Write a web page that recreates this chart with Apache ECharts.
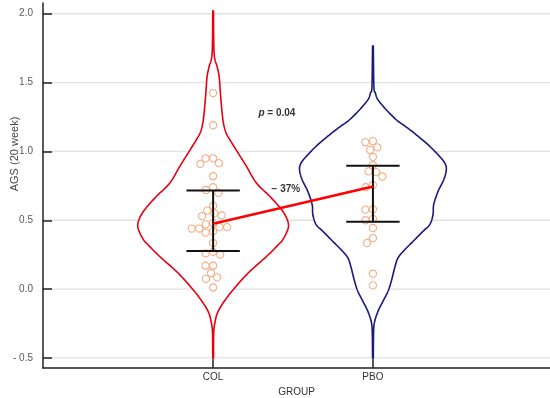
<!DOCTYPE html>
<html><head><meta charset="utf-8">
<script src="https://cdn.jsdelivr.net/npm/echarts@6/dist/echarts.min.js"></script>
<style>html,body{margin:0;padding:0;background:#fff}#c{width:550px;height:398px}</style>
</head><body><div id="c"></div>
<script>
// ---------- data ----------
const groups = ['COL', 'PBO'];
const colValues = [1.424, 1.19, 0.95, 0.95, 0.915, 0.91, 0.82, 0.74, 0.72, 0.70, 0.605, 0.57, 0.55, 0.535, 0.53,
  0.48, 0.47, 0.45, 0.45, 0.44, 0.44, 0.42, 0.41, 0.335, 0.27, 0.26, 0.25, 0.17, 0.17, 0.117, 0.085, 0.075, 0.012];
const pboValues = [1.075, 1.068, 1.03, 1.012, 0.96, 0.90, 0.855, 0.85, 0.818, 0.756, 0.74, 0.58, 0.577, 0.51, 0.50,
  0.444, 0.37, 0.335, 0.112, 0.027];
const medians = [0.474, 0.746];
const q1s = [0.277, 0.49];
const q3s = [0.717, 0.896];
const yTicks = [-0.5, 0, 0.5, 1, 1.5, 2];
// violin outlines: value levels and relative density
const colViolinV = [2.02, 1.714, 1.617, 1.545, 1.424, 1.303, 1.206, 1.134, 1.085, 0.988, 0.891, 0.77, 0.673, 0.577, 0.504, 0.444, 0.364, 0.322, 0.237, 0.117, -0.004, -0.101, -0.174, -0.246, -0.319, -0.5];
const colViolinD = [0.005, 0.013, 0.053, 0.08, 0.097, 0.116, 0.137, 0.173, 0.223, 0.333, 0.444, 0.577, 0.756, 0.911, 0.987, 1.0, 0.933, 0.867, 0.711, 0.467, 0.267, 0.133, 0.057, 0.023, 0.008, 0.005];
const pboViolinV = [1.765, 1.472, 1.424, 1.375, 1.303, 1.23, 1.177, 1.121, 1.049, 0.976, 0.916, 0.867, 0.795, 0.71, 0.613, 0.54, 0.468, 0.42, 0.346, 0.286, 0.226, 0.153, 0.056, -0.017, -0.089, -0.162, -0.235, -0.307, -0.5];
const pboViolinD = [0.005, 0.013, 0.033, 0.067, 0.177, 0.311, 0.444, 0.577, 0.733, 0.867, 0.956, 0.977, 0.943, 0.867, 0.809, 0.8, 0.756, 0.667, 0.533, 0.423, 0.333, 0.289, 0.244, 0.2, 0.133, 0.067, 0.023, 0.009, 0.005];
const pText = 'p';
const pRest = ' = 0.04';
const changeText = '\u2212 37%';
const yName = 'AGS (20 week)';
const xName = 'GROUP';

// ---------- styling ----------
const FONT = 'Liberation Sans, Arial, sans-serif';
const HALF = 0.47;      // max violin half-width in category units
const CAP = 0.167;      // error bar cap half-width
const violinColors = ['#e60012', '#1a1a7e'];
const pointColor = '#f4ae84';

const violins = [
  { v: colViolinV, d: colViolinD, color: violinColors[0] },
  { v: pboViolinV, d: pboViolinD, color: violinColors[1] }
];

function catmull(pts, n) {
  const out = [];
  for (let i = 0; i < pts.length - 1; i++) {
    const p0 = pts[Math.max(0, i - 1)], p1 = pts[i], p2 = pts[i + 1], p3 = pts[Math.min(pts.length - 1, i + 2)];
    for (let s = 0; s < n; s++) {
      const t = s / n, t2 = t * t, t3 = t2 * t;
      out.push([0, 1].map(k => 0.5 * ((2 * p1[k]) + (-p0[k] + p2[k]) * t + (2 * p0[k] - 5 * p1[k] + 4 * p2[k] - p3[k]) * t2 + (-p0[k] + 3 * p1[k] - 3 * p2[k] + p3[k]) * t3)));
    }
  }
  out.push(pts[pts.length - 1]);
  return out;
}

const chart = echarts.init(document.getElementById('c'), null, { renderer: 'canvas' });

function baseOption(colPts, pboPts) {
  return {
    animation: false,
    backgroundColor: '#fff',
    textStyle: { fontFamily: FONT },
    grid: { left: 43, right: 0, top: 3, bottom: 30, containLabel: false, outerBoundsMode: 'none' },
    xAxis: {
      type: 'value', min: -0.0645, max: 3.108, z: 10,
      name: xName, nameLocation: 'middle', nameGap: 18,
      nameTextStyle: { fontSize: 10, color: '#333', fontFamily: FONT },
      axisLine: { show: true, onZero: false, lineStyle: { color: '#222', width: 1.5 } },
      axisTick: { show: true, inside: true, length: 9, customValues: [1, 2], lineStyle: { color: '#222', width: 1.5 } },
      axisLabel: { show: true, margin: 4, customValues: [1, 2], fontSize: 10, color: '#333', fontFamily: FONT,
        formatter: v => groups[Math.round(v) - 1] || '' },
      splitLine: { show: false }
    },
    yAxis: {
      type: 'value', min: -0.573, max: 2.078, z: 10,
      axisLine: { show: true, onZero: false, lineStyle: { color: '#222', width: 1.5 } },
      axisTick: { show: true, inside: true, length: 9, customValues: yTicks, lineStyle: { color: '#222', width: 1.5 } },
      axisLabel: { show: true, margin: 10, customValues: yTicks, fontSize: 10, color: '#595959', fontFamily: FONT,
        formatter: v => v < 0 ? '- ' + Math.abs(v).toFixed(1) : v.toFixed(1) },
      splitLine: { show: false }
    },
    graphic: [{
      type: 'text', x: 15, y: 154, rotation: Math.PI / 2,
      style: { text: yName, font: '11px ' + FONT, fill: '#444', align: 'center', verticalAlign: 'middle' }
    }],
    series: [
      { // gridlines
        type: 'custom', z: 0, silent: true,
        data: yTicks.map(v => [0, v]),
        encode: { x: 0, y: 1 },
        renderItem: (params, api) => {
          const cs = params.coordSys;
          const y = api.coord([0, api.value(1)])[1];
          return { type: 'line', shape: { x1: cs.x + 1, y1: y, x2: cs.x + cs.width, y2: y },
            style: { stroke: '#e2e2e2', lineWidth: 1.3 } };
        }
      },
      { // violins
        type: 'custom', z: 1, silent: true,
        data: [[1, 0.5], [2, 0.5]],
        encode: { x: 0, y: 1 },
        renderItem: (params, api) => {
          const vi = violins[params.dataIndex];
          const cx = api.value(0);
          const left = [], right = [];
          for (let k = 0; k < vi.v.length; k++) {
            left.push(api.coord([cx - vi.d[k] * HALF, vi.v[k]]));
            right.push(api.coord([cx + vi.d[k] * HALF, vi.v[k]]));
          }
          const pts = catmull(left, 8).concat(catmull(right, 8).reverse());
          return { type: 'polygon', shape: { points: pts },
            style: { fill: '#fff', stroke: vi.color, lineWidth: 1.6 } };
        }
      },
      {
        type: 'scatter', z: 2, silent: true, data: colPts || [],
        symbol: 'circle', symbolSize: 7.2,
        itemStyle: { color: 'rgba(0,0,0,0)', borderColor: pointColor, borderWidth: 1.1, opacity: 1 }
      },
      {
        type: 'scatter', z: 2, silent: true, data: pboPts || [],
        symbol: 'circle', symbolSize: 7.2,
        itemStyle: { color: 'rgba(0,0,0,0)', borderColor: pointColor, borderWidth: 1.1, opacity: 1 }
      },
      { // error bars (IQR)
        type: 'custom', z: 3, silent: true,
        data: groups.map((g, i) => [i + 1, q1s[i], q3s[i]]),
        encode: { x: 0, y: [1, 2] },
        renderItem: (params, api) => {
          const x = api.value(0), lo = api.value(1), hi = api.value(2);
          const a = api.coord([x, lo]), b = api.coord([x, hi]);
          const l = api.coord([x - CAP, lo])[0], r = api.coord([x + CAP, lo])[0];
          const st = { stroke: '#111', lineWidth: 2 };
          return { type: 'group', children: [
            { type: 'line', shape: { x1: a[0], y1: a[1], x2: b[0], y2: b[1] }, style: st },
            { type: 'line', shape: { x1: l, y1: a[1], x2: r, y2: a[1] }, style: st },
            { type: 'line', shape: { x1: l, y1: b[1], x2: r, y2: b[1] }, style: st }
          ] };
        }
      },
      { // median connection
        type: 'line', z: 4, silent: true, symbol: 'none',
        data: medians.map((m, i) => [i + 1, m]),
        lineStyle: { color: '#ff0000', width: 2.6 }
      },
      { // annotations
        type: 'scatter', z: 6, silent: true, symbolSize: 0,
        data: [
          { value: [1.399, 1.279], label: { formatter: '{i|' + pText + '}{b|' + pRest + '}' } },
          { value: [1.455, 0.727], label: { formatter: '{b|' + changeText + '}' } }
        ],
        label: { show: true, position: 'inside',
          rich: {
            i: { fontStyle: 'italic', fontWeight: 'bold', fontSize: 10, color: '#000', fontFamily: FONT },
            b: { fontWeight: 'bold', fontSize: 10, color: '#000', fontFamily: FONT }
          } }
      }
    ]
  };
}

chart.setOption(baseOption());

// beeswarm layout in pixel space
const pA = chart.convertToPixel({ gridIndex: 0 }, [1, 0]);
const pB = chart.convertToPixel({ gridIndex: 0 }, [2, 1]);
const pxX = pB[0] - pA[0], pxY = pA[1] - pB[1];
function swarm(vals, D) {
  const order = vals.map((v, i) => i).sort((a, b) => vals[b] - vals[a]);
  const placed = [], offs = new Array(vals.length);
  for (const i of order) {
    const y = vals[i] * pxY;
    const ivs = [];
    for (const p of placed) {
      const dy = Math.abs(p.y - y);
      if (dy < D) { const w = Math.sqrt(D * D - dy * dy); ivs.push([p.x - w, p.x + w]); }
    }
    const cands = [0];
    ivs.forEach(iv => cands.push(iv[0], iv[1]));
    cands.sort((a, b) => Math.abs(a) - Math.abs(b) || a - b);
    let x = 0;
    for (const c of cands) {
      if (ivs.every(iv => c <= iv[0] + 1e-6 || c >= iv[1] - 1e-6)) { x = c; break; }
    }
    placed.push({ x, y });
    offs[i] = x;
  }
  return offs;
}
const D = 7.6;
const colOff = swarm(colValues, D), pboOff = swarm(pboValues, D);
const colPts = colValues.map((v, i) => [1 + colOff[i] / pxX, v]);
const pboPts = pboValues.map((v, i) => [2 + pboOff[i] / pxX, v]);
chart.setOption(baseOption(colPts, pboPts), true);
</script>
</body></html>
